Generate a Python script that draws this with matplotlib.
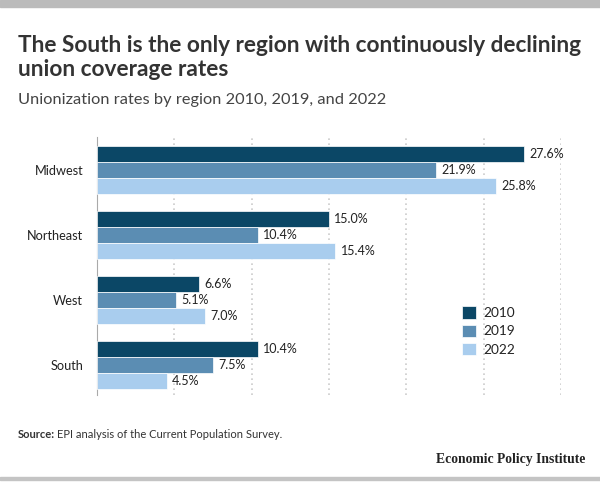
import matplotlib.pyplot as plt
import numpy as np
from matplotlib.patches import Rectangle

plt.rcParams['font.family'] = ['Lato', 'DejaVu Sans']

regions = ["Midwest", "Northeast", "West", "South"]
years = ["2010", "2019", "2022"]
rate_2010 = [27.6, 15.0, 6.6, 10.4]
rate_2019 = [21.9, 10.4, 5.1, 7.5]
rate_2022 = [25.8, 15.4, 7.0, 4.5]
colors = ["#0b4766", "#5b8db3", "#a9cdee"]

fig = plt.figure(figsize=(6, 5.01), dpi=100)
W, H = 600, 501

# grey rules top and bottom
fig.patches.append(Rectangle((0, 1 - 7 / H), 1, 7 / H, transform=fig.transFigure,
                             color="#bbbbbb", zorder=0))
fig.patches.append(Rectangle((0, 1 - 480 / H), 1, 3 / H, transform=fig.transFigure,
                             color="#c4c4c4", zorder=0))

ax = fig.add_axes([97 / W, 1 - 395 / H, (561 - 97) / W, (395 - 137) / H])

bar_h = 0.246
y = np.arange(len(regions))
series = [rate_2010, rate_2019, rate_2022]
for i, (vals, c, lab) in enumerate(zip(series, colors, years)):
    pos = y + (i - 1) * bar_h
    ax.barh(pos, vals, height=bar_h, color=c, label=lab, zorder=3,
            edgecolor="white", linewidth=0.5)
    for p, v in zip(pos, vals):
        ax.text(v + 0.35, p, f"{v:.1f}%", va="center", ha="left",
                fontsize=9, color="#222222", zorder=4)

ax.set_xlim(0, 30)
ax.set_ylim(3.46, -0.508)
ax.set_xticks([5, 10, 15, 20, 25, 30])
ax.grid(axis="x", linestyle=(0, (1, 2)), color="#cccccc", linewidth=1.2, zorder=0)
ax.tick_params(axis="x", length=0, labelbottom=False)
ax.set_yticks(y)
ax.set_yticklabels(regions, fontsize=9.2, color="#222222")
ax.tick_params(axis="y", length=0, pad=10)
for s in ["top", "right", "bottom"]:
    ax.spines[s].set_visible(False)
ax.spines["left"].set_color("#aaaaaa")
ax.spines["left"].set_linewidth(0.8)

leg = ax.legend(loc="upper left", bbox_to_anchor=((457 - 97) / 464, (395 - 301) / 258),
                frameon=False, fontsize=9.8, handlelength=1.0, handleheight=1.0,
                handletextpad=0.5, labelspacing=0.4, borderaxespad=0)
for t in leg.get_texts():
    t.set_color("#222222")

fig.text(18 / W, 1 - 45 / H, "The South is the only region with continuously declining",
         fontsize=16.3, fontweight="bold", color="#333333", va="center", ha="left")
fig.text(18 / W, 1 - 70 / H, "union coverage rates",
         fontsize=16.3, fontweight="bold", color="#333333", va="center", ha="left")
fig.text(18 / W, 1 - 100 / H, "Unionization rates by region 2010, 2019, and 2022",
         fontsize=11.8, color="#444444", va="center", ha="left")

fig.text(18 / W, 1 - 434 / H, "Source:", fontsize=8, fontweight="bold",
         color="#333333", va="center", ha="left")
fig.text(57 / W, 1 - 434 / H, "EPI analysis of the Current Population Survey.",
         fontsize=8, color="#333333", va="center", ha="left")
fig.text(585 / W, 1 - 460 / H, "Economic Policy Institute", fontsize=9.8,
         fontweight="bold", family="Liberation Serif", color="#222222",
         va="center", ha="right")

fig.savefig("out.png", dpi=100)
